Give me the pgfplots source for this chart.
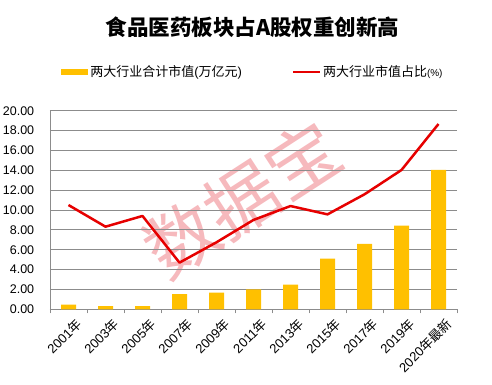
\documentclass[border=0pt]{standalone}
\usepackage{pgfplots}
\pgfplotsset{compat=1.18}
\usepackage{fontspec}
\setmainfont{Liberation Sans}
\newfontfamily\cjk{Noto Sans CJK SC}
\definecolor{baryellow}{HTML}{FFC000}
\definecolor{linered}{HTML}{E60000}
\definecolor{gridgray}{HTML}{8C8C8C}
\definecolor{wm}{HTML}{EE7F86}
\begin{document}
\begin{tikzpicture}
% watermark (behind the axis)
\node[rotate=33, text=wm, opacity=0.55, font=\cjk\fontsize{72}{72}\selectfont, inner sep=0pt] at (192pt,110pt) {数据宝};
\begin{axis}[
  name=main,
  at={(0pt,0pt)}, anchor=south west,
  scale only axis, width=407pt, height=198.6pt,
  xmin=-0.5, xmax=10.5, ymin=0, ymax=20,
  axis x line*=bottom, axis y line*=left,
  axis line style={gridgray, -, line width=0.8pt},
  xtick={0,...,10},
  xticklabels={{2001\cjk 年},{2003\cjk 年},{2005\cjk 年},{2007\cjk 年},{2009\cjk 年},{2011\cjk 年},{2013\cjk 年},{2015\cjk 年},{2017\cjk 年},{2019\cjk 年},{2020\cjk 年最新}},
  x tick label style={rotate=45, anchor=north east, font=\fontsize{13}{13}\selectfont, inner sep=1pt, xshift=3pt, yshift=-6pt},
  major x tick style={draw=none},
  minor xtick={-0.5,0.5,...,10.5},
  minor x tick style={gridgray, line width=0.8pt},
  minor tick length=4pt,
  tick align=outside,
  ytick={0,2,...,20},
  y tick style={draw=none},
  /pgf/number format/assume math mode=true,
  yticklabel style={/pgf/number format/.cd, fixed, fixed zerofill, precision=2, /tikz/.cd, font=\fontsize{12.5}{12.5}\selectfont, xshift=-8pt},
  ymajorgrids, grid style={gridgray, line width=0.8pt},
  legend columns=2,
  legend cell align=left,
  legend style={at={(0.02,1.197)}, anchor=west, draw=none, fill=none,
    font=\fontsize{13}{13}\selectfont,
    /tikz/every even column/.append style={column sep=48pt}},
  clip=false,
]
\addplot[ybar, bar width=15pt, fill=baryellow, draw=none,
  legend image code/.code={\fill[baryellow] (0pt,-3pt) rectangle (27pt,3pt);}]
  coordinates {(0,0.46) (1,0.33) (2,0.33) (3,1.54) (4,1.67) (5,2.0) (6,2.48) (7,5.1) (8,6.6) (9,8.42) (10,14.03)};
\addlegendentry{{\cjk 两大行业合计市值}({\cjk 万亿元})}
\addplot[linered, line width=2.5pt, mark=none, line join=round,
  legend image code/.code={\draw[linered, line width=2pt] (0pt,0pt) -- (27pt,0pt);}]
  coordinates {(0,10.5) (1,8.32) (2,9.4) (3,4.7) (4,6.75) (5,9.0) (6,10.4) (7,9.56) (8,11.58) (9,14.03) (10,18.66)};
\addlegendentry{{\cjk 两大行业市值占比}{\fontsize{10}{10}\selectfont(\%)}}
\end{axis}
\node[font=\cjk\bfseries\fontsize{21.5}{21.5}\selectfont] at ([xshift=202.5pt, yshift=83.7pt]main.north west) {食品医药板块占A股权重创新高};
\pgfresetboundingbox
\path[use as bounding box] (-50pt,-75.7pt) rectangle (442pt,309.3pt);
\end{tikzpicture}
\end{document}
